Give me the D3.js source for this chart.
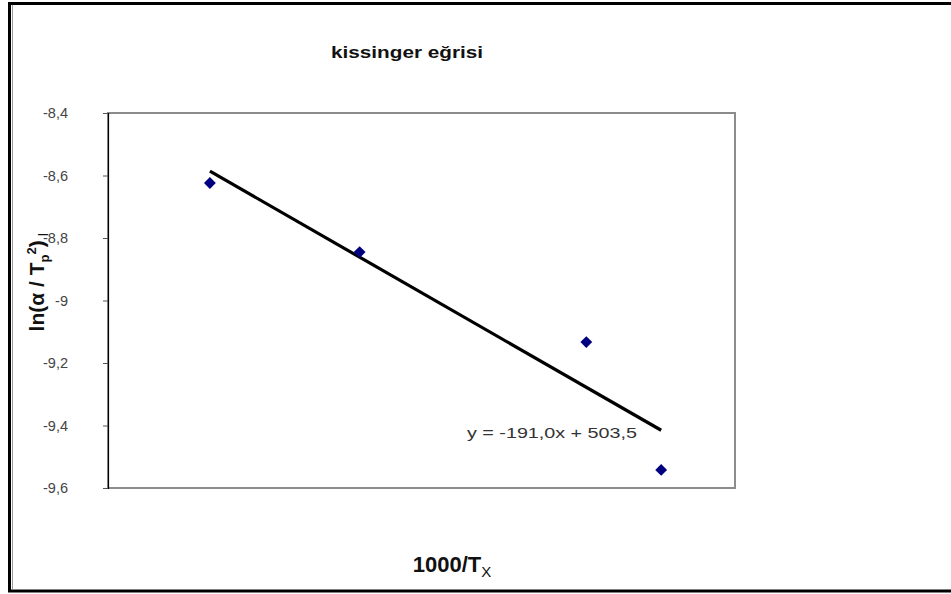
<!DOCTYPE html>
<html>
<head>
<meta charset="utf-8">
<script src="https://cdn.jsdelivr.net/npm/d3@7/dist/d3.min.js"></script>
<style>
  html, body { margin: 0; padding: 0; background: #fff; }
  svg { display: block; }
  text { font-family: "Liberation Sans", Arial, sans-serif; }
</style>
</head>
<body>
<svg id="chart" width="951" height="594"></svg>
<script>
// Kissinger plot: 1000/Tx against ln(alpha / Tp^2)
const xValues = [2.68108, 2.68252, 2.68470, 2.68542];
const yValues = [-8.624, -8.845, -9.133, -9.542];

const yTickValues = [-8.4, -8.6, -8.8, -9.0, -9.2, -9.4, -9.6];
const yTickLabels = ["-8,4", "-8,6", "-8,8", "-9", "-9,2", "-9,4", "-9,6"];

// linear trend line as printed on the chart
const trendSlope = -191.0;
const trendIntercept = 503.5;
const trendLabel = "y = -191,0x + 503,5";

const titleText = "kissinger eğrisi";

const svg = d3.select("#chart");
const W = 951, H = 594;

// outer frame
svg.append("rect").attr("x", 0).attr("y", 0).attr("width", W).attr("height", H).attr("fill", "#fff");
svg.append("rect")
  .attr("x", 9.5).attr("y", 3.5).attr("width", 960).attr("height", 587.5)
  .attr("fill", "none").attr("stroke", "#000").attr("stroke-width", 3);
svg.append("line")
  .attr("x1", 12.5).attr("x2", 12.5).attr("y1", 5).attr("y2", 589)
  .attr("stroke", "#9a9a9a").attr("stroke-width", 1);

// plot area
const plot = { left: 108, top: 113, right: 735, bottom: 488 };

const x = d3.scaleLinear().domain([2.6801, 2.68613]).range([plot.left, plot.right]);
const y = d3.scaleLinear().domain([-9.6, -8.4]).range([plot.bottom, plot.top]);

svg.append("rect")
  .attr("x", plot.left).attr("y", plot.top)
  .attr("width", plot.right - plot.left).attr("height", plot.bottom - plot.top)
  .attr("fill", "#fff").attr("stroke", "#8c8c8c").attr("stroke-width", 2);

// y axis
const yAxis = d3.axisLeft(y)
  .tickValues(yTickValues)
  .tickSize(5)
  .tickPadding(35)
  .tickFormat((d, i) => yTickLabels[i]);

const gy = svg.append("g")
  .attr("transform", `translate(${plot.left},0)`)
  .call(yAxis);
gy.select(".domain").attr("stroke", "#000").attr("stroke-width", 1.2);
gy.selectAll(".tick line").attr("stroke", "#555");
gy.selectAll(".tick text")
  .attr("fill", "#444")
  .style("font-size", "14.5px")
  .style("font-family", "\"Liberation Sans\", Arial, sans-serif");

// trend line over the data range
const xExt = d3.extent(xValues);
const trend = xExt.map(v => [v, trendSlope * v + trendIntercept]);
svg.append("path")
  .datum(trend)
  .attr("d", d3.line().x(d => x(d[0])).y(d => y(d[1])))
  .attr("fill", "none").attr("stroke", "#000").attr("stroke-width", 3.2);

// data points as diamonds
const diamond = d3.symbol().type(d3.symbolSquare).size(70);
svg.append("g").selectAll("path")
  .data(xValues.map((v, i) => [v, yValues[i]]))
  .join("path")
  .attr("d", diamond)
  .attr("transform", d => `translate(${x(d[0])},${y(d[1])}) rotate(45)`)
  .attr("fill", "#000080");

// trend equation
svg.append("text")
  .attr("x", 467).attr("y", 438)
  .attr("textLength", 170).attr("lengthAdjust", "spacingAndGlyphs")
  .attr("fill", "#333")
  .style("font-size", "15px")
  .text(trendLabel);

// title
svg.append("text")
  .attr("x", 331).attr("y", 58)
  .attr("textLength", 152).attr("lengthAdjust", "spacingAndGlyphs")
  .style("font-size", "16px").style("font-weight", "bold")
  .attr("fill", "#111")
  .text(titleText);

// x axis title
const xt = svg.append("text")
  .attr("x", 452).attr("y", 572)
  .attr("text-anchor", "middle")
  .style("font-size", "22px").style("font-weight", "bold")
  .attr("fill", "#111");
xt.append("tspan").text("1000/T");
xt.append("tspan").attr("dy", 5).style("font-size", "15px").style("font-weight", "normal").text("X");

// y axis title
const yt = svg.append("text")
  .attr("transform", "translate(44,282) rotate(-90)")
  .attr("text-anchor", "middle")
  .style("font-size", "21px").style("font-weight", "bold")
  .attr("fill", "#111");
yt.append("tspan").text("ln(α / T");
yt.append("tspan").attr("dy", 5).style("font-size", "13px").text("p");
yt.append("tspan").attr("dy", -13).style("font-size", "13px").text("2");
yt.append("tspan").attr("dy", 8).text(")");
yt.append("tspan").attr("dy", 4).style("font-size", "14px").style("font-weight", "normal").text(" I");
</script>
</body>
</html>
